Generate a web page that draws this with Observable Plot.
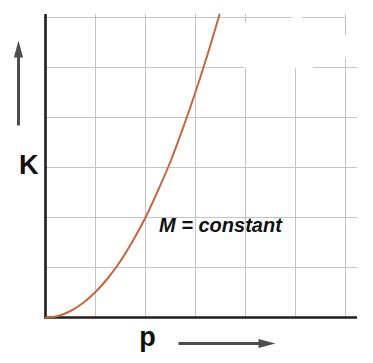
<!DOCTYPE html>
<html>
<head>
<meta charset="utf-8">
<script src="https://cdn.jsdelivr.net/npm/d3@7"></script>
<script src="https://cdn.jsdelivr.net/npm/@observablehq/plot@0.6"></script>
<style>
  html, body { margin: 0; padding: 0; background: #fff; }
  #chart svg { display: block; }
</style>
</head>
<body>
<div id="chart"></div>
<script>
// Curve (momentum p vs kinetic energy K)
const pValues = [0, 0.25, 0.5, 0.75, 1, 1.25, 1.5, 1.75, 2, 2.25, 2.5, 2.75, 3, 3.25, 3.48];
const kValues = [0, 0.03, 0.13, 0.29, 0.51, 0.79, 1.13, 1.54, 2.0, 2.54, 3.12, 3.79, 4.51, 5.29, 6.06];

// Grid
const gridX = [1, 2, 3, 4, 5, 6];
const gridY = [1, 2, 3, 4, 5];
const gridTopY = 6;
const xMax = 6.24;
const yMax = 6;
const axisTop = 6.06;

// Texts
const yLabel = "K";
const xLabel = "p";
const note = "M = constant";

// Erased (white) patches of the grid in the original picture
const erasedX1 = [3.98, 4.94, 5.97];
const erasedX2 = [5.36, 5.14, 6.03];
const erasedY1 = [4.975, 5.87, 5.18];
const erasedY2 = [5.88, 6.1, 5.64];

const curve = pValues.map((p, i) => ({p, k: kValues[i]}));
const erased = erasedX1.map((x1, i) => ({x1, x2: erasedX2[i], y1: erasedY1[i], y2: erasedY2[i]}));

const arrowHead = {
  draw(ctx) {
    ctx.moveTo(0, 0);
    ctx.lineTo(4.6, 17);
    ctx.lineTo(-4.6, 17);
    ctx.closePath();
  }
};

const gridColor = "#c4c4c4";
const axisColor = "#1e1e1e";
const arrowColor = "#4d4d4d";
const curveColor = "#c1683e";

const chart = Plot.plot({
  width: 373,
  height: 363,
  marginLeft: 45,
  marginRight: 16,
  marginTop: 17,
  marginBottom: 46,
  style: {background: "#fff", fontFamily: "'Liberation Sans', Arial, sans-serif"},
  x: {domain: [0, xMax], axis: null},
  y: {domain: [0, yMax], axis: null},
  marks: [
    // grid
    Plot.ruleX(gridX, {y1: 0, y2: axisTop, stroke: gridColor, strokeWidth: 1}),
    Plot.ruleY(gridY, {x1: 0, x2: xMax, stroke: gridColor, strokeWidth: 1}),
    Plot.ruleY([gridTopY], {x1: 0, x2: 6, stroke: gridColor, strokeWidth: 1}),
    // erased patches
    Plot.rect(erased, {x1: "x1", x2: "x2", y1: "y1", y2: "y2", fill: "#fff"}),
    // axes
    Plot.ruleX([0], {y1: 0, y2: axisTop, stroke: axisColor, strokeWidth: 2.6}),
    Plot.ruleY([0], {x1: -0.02, x2: xMax, stroke: axisColor, strokeWidth: 2.6}),
    // curve
    Plot.line(curve, {x: "p", y: "k", curve: "catmull-rom", stroke: curveColor, strokeWidth: 2}),
    // annotation
    Plot.text([note], {x: 2.27, y: 1.84, text: d => d, textAnchor: "start",
      fontSize: 20, fontWeight: "bold", fontStyle: "italic", fill: "#111"}),
    // axis labels
    Plot.text([yLabel], {frameAnchor: "left", dx: -26.5, dy: -2, text: d => d,
      fontSize: 27, fontWeight: "bold", fill: "#111"}),
    Plot.text([xLabel], {frameAnchor: "bottom", dx: -54, dy: 28.5, text: d => d,
      fontSize: 27, fontWeight: "bold", fill: "#111"}),
    // arrows (shafts)
    Plot.link([0], {x1: -0.54, x2: -0.54, y1: 3.84, y2: 5.38, stroke: arrowColor, strokeWidth: 3, strokeLinecap: "butt"}),
    Plot.link([0], {x1: 2.66, x2: 4.44, y1: -0.52, y2: -0.52, stroke: arrowColor, strokeWidth: 3, strokeLinecap: "butt"}),
    // arrow heads
    Plot.dot([0], {x: -0.54, y: 5.54, symbol: arrowHead, fill: arrowColor, stroke: "none", r: 5}),
    Plot.dot([0], {x: 4.6, y: -0.52, symbol: arrowHead, rotate: 90, fill: arrowColor, stroke: "none", r: 5})
  ]
});

document.getElementById("chart").append(chart);
</script>
</body>
</html>
